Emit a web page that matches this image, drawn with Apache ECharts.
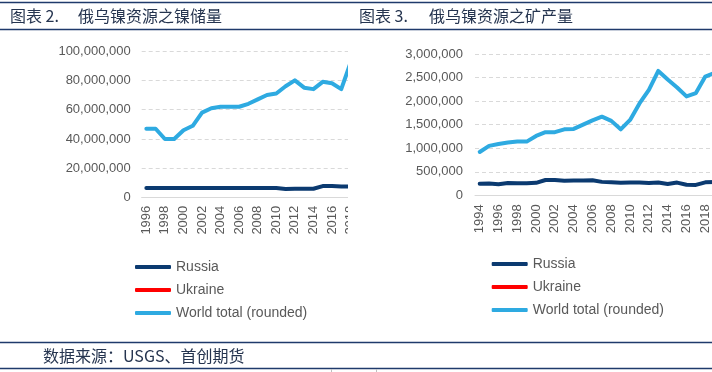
<!DOCTYPE html>
<html><head><meta charset="utf-8">
<script src="https://cdn.jsdelivr.net/npm/echarts@6/dist/echarts.min.js"></script>
<style>
html,body{margin:0;padding:0;background:#fff;}
#bg{position:absolute;left:0;top:0;width:712px;height:372px;}
#w1{position:absolute;left:0;top:0;width:348px;height:340px;overflow:hidden;}
#w2{position:absolute;left:356px;top:0;width:356px;height:340px;overflow:hidden;}
#c1{position:absolute;left:0;top:0;width:357px;height:340px;}
#c2{position:absolute;left:0;top:0;width:364px;height:340px;}
</style></head><body>
<div id="bg"></div>
<div id="w1"><div id="c1"></div></div>
<div id="w2"><div id="c2"></div></div>
<script>
// ---- Chart 2: nickel reserves (tonnes) ----
const reserveYears = ['1996','1997','1998','1999','2000','2001','2002','2003','2004','2005','2006','2007','2008','2009','2010','2011','2012','2013','2014','2015','2016','2017','2018'];
const reserveRussia = [6600000,6600000,6600000,6600000,6600000,6600000,6600000,6600000,6600000,6600000,6600000,6600000,6600000,6600000,6600000,6000000,6100000,6100000,6100000,7900000,7900000,7600000,7600000];
const reserveUkraine = [null,null,null,null,null,null,null,null,null,null,null,null,null,null,null,null,null,null,null,null,null,null,null];
const reserveWorld = [47000000,47000000,40000000,40000000,46000000,49000000,58000000,61000000,62000000,62000000,62000000,64000000,67000000,70000000,71000000,76000000,80000000,75000000,74000000,79000000,78000000,74000000,92000000];
const reserveTicks = [0,20000000,40000000,60000000,80000000,100000000];

// ---- Chart 3: nickel mine production (tonnes) ----
const prodYears = ['1994','1995','1996','1997','1998','1999','2000','2001','2002','2003','2004','2005','2006','2007','2008','2009','2010','2011','2012','2013','2014','2015','2016','2017','2018','2019'];
const prodRussia = [245000,250000,235000,260000,255000,255000,265000,325000,325000,310000,315000,315000,320000,285000,275000,265000,270000,270000,260000,270000,240000,270000,225000,220000,275000,280000];
const prodUkraine = [null,null,null,null,null,null,null,null,null,null,null,null,null,null,null,null,null,null,null,null,null,null,null,null,null,null];
const prodWorld = [920000,1050000,1090000,1120000,1140000,1140000,1260000,1340000,1340000,1400000,1410000,1500000,1590000,1670000,1580000,1400000,1600000,1950000,2240000,2640000,2460000,2290000,2100000,2170000,2520000,2600000];
const prodTicks = [0,500000,1000000,1500000,2000000,2500000,3000000];

const seriesNames = ['Russia','Ukraine','World total (rounded)'];
const colors = ['#0b3a70','#ff0000','#2eaae1'];

function fmt(v){ return String(Math.round(v)).replace(/\B(?=(\d{3})+(?!\d))/g, ','); }

function makeOption(cfg){
  const ser = [cfg.russia, cfg.ukraine, cfg.world].map((d,i)=>({
    name: seriesNames[i], type:'line', data:d, symbol:'none', smooth:false,
    lineStyle:{width:4, color:colors[i], cap:'round', join:'round'},
    itemStyle:{color:colors[i]}, z: i===2?3:2, connectNulls:false
  }));
  return {
    animation:false,
    backgroundColor:'transparent',
    grid:{left:cfg.left, right:cfg.right, top:cfg.top, bottom:cfg.bottom, containLabel:false},
    xAxis:{type:'category', data:cfg.years, boundaryGap:true,
      axisLine:{show:true, lineStyle:{color:'#d9d9d9', width:1}},
      axisTick:{show:false},
      axisLabel:{rotate:90, interval:1, margin:cfg.xMargin, color:'#595959', fontFamily:'Liberation Sans', fontSize:13}
    },
    yAxis:{type:'value', min:cfg.ticks[0], max:cfg.ticks[cfg.ticks.length-1], interval:cfg.ticks[1]-cfg.ticks[0],
      axisLine:{show:false}, axisTick:{show:false},
      axisLabel:{formatter:fmt, margin:cfg.yMargin, color:'#595959', fontFamily:'Liberation Sans', fontSize:13},
      splitLine:{show:true, lineStyle:{color:'#d9d9d9', width:1, type:[4,3]}}
    },
    legend:{orient:'vertical', left:cfg.legLeft, top:cfg.legTop, padding:0, itemWidth:36, itemHeight:4, itemGap:9,
      icon:'roundRect', data:seriesNames,
      textStyle:{fontFamily:'Liberation Sans', fontSize:14, color:'#595959'}},
    series:ser
  };
}

const c1 = echarts.init(document.getElementById('c1'));
c1.setOption(makeOption({years:reserveYears, russia:reserveRussia, ukraine:reserveUkraine, world:reserveWorld, ticks:reserveTicks,
  left:141.7, right:0.25, top:51, bottom:142.3, xMargin:8, yMargin:11, legLeft:135, legTop:260}));

const c2 = echarts.init(document.getElementById('c2'));
c2.setOption(makeOption({years:prodYears, russia:prodRussia, ukraine:prodUkraine, world:prodWorld, ticks:prodTicks,
  left:119, right:0.6, top:54, bottom:144.7, xMargin:9, yMargin:12, legLeft:135.7, legTop:257}));

const bg = echarts.init(document.getElementById('bg'));
const navy = '#1f3a6b';
const titleFont = '16px "Noto Sans CJK SC"';
bg.setOption({
  animation:false,
  backgroundColor:'#ffffff',
  graphic:[
    {type:'line', shape:{x1:0,y1:2.5,x2:712,y2:2.5}, style:{stroke:navy, lineWidth:1.5}},
    {type:'line', shape:{x1:0,y1:29.5,x2:712,y2:29.5}, style:{stroke:navy, lineWidth:1.5}},
    {type:'line', shape:{x1:0,y1:342.5,x2:712,y2:342.5}, style:{stroke:navy, lineWidth:1.5}},
    {type:'line', shape:{x1:0,y1:368.5,x2:712,y2:368.5}, style:{stroke:navy, lineWidth:1.5}},
    {type:'line', shape:{x1:331.5,y1:369,x2:331.5,y2:372}, style:{stroke:'#bfbfbf', lineWidth:1}},
    {type:'line', shape:{x1:376.5,y1:369,x2:376.5,y2:372}, style:{stroke:'#bfbfbf', lineWidth:1}},
    {type:'text', x:10, y:16, style:{text:'图表 2.', font:titleFont, fill:'#25344f', verticalAlign:'middle'}},
    {type:'text', x:78, y:16, style:{text:'俄乌镍资源之镍储量', font:titleFont, fill:'#25344f', verticalAlign:'middle'}},
    {type:'text', x:359, y:16, style:{text:'图表 3.', font:titleFont, fill:'#25344f', verticalAlign:'middle'}},
    {type:'text', x:429, y:16, style:{text:'俄乌镍资源之矿产量', font:titleFont, fill:'#25344f', verticalAlign:'middle'}},
    {type:'text', x:43, y:355.5, style:{text:'数据来源：USGS、首创期货', font:'16px "Noto Sans CJK SC"', fill:'#25344f', verticalAlign:'middle'}}
  ]
});
</script>
</body></html>
